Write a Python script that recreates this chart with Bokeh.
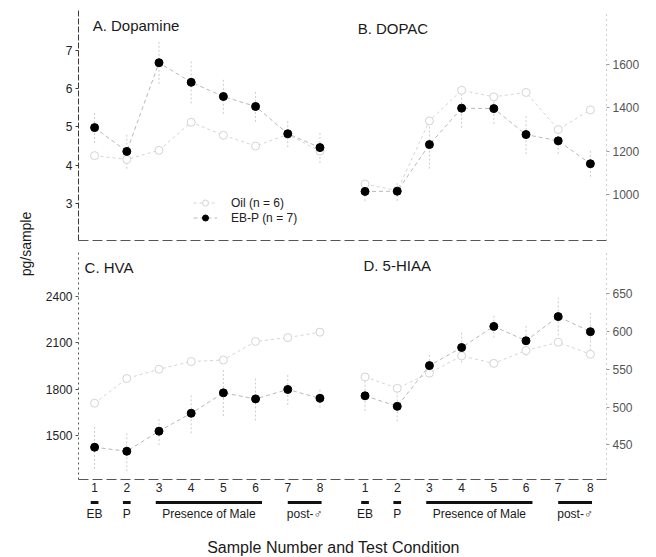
import numpy as np
from bokeh.plotting import figure
from bokeh.models import (Range1d, LinearAxis, FixedTicker, CustomJSTickFormatter,
                          Legend, LegendItem, Label)
from bokeh.layouts import column, row
from bokeh.embed import file_html
from bokeh.resources import INLINE
from bokeh.core.properties import value

FONT = "Liberation Sans"

# ---------------- data ----------------
samples = [1, 2, 3, 4, 5, 6, 7, 8]
RIGHT_OFFSET = 8.4          # right-hand panels share the row, shifted along x

# A. Dopamine
da_ebp = [4.98, 4.36, 6.67, 6.16, 5.79, 5.53, 4.82, 4.46]
da_ebp_se = [0.40, 0.45, 0.55, 0.55, 0.45, 0.40, 0.35, 0.40]
da_oil = [4.25, 4.15, 4.39, 5.12, 4.78, 4.50, 4.80, 4.37]

# B. DOPAC
dopac_ebp = [1016, 1017, 1231, 1398, 1396, 1277, 1248, 1143]
dopac_ebp_se = [45, 45, 110, 90, 70, 90, 60, 60]
dopac_oil = [1050, 1020, 1340, 1480, 1450, 1470, 1300, 1390]

# C. HVA
hva_ebp = [1425, 1399, 1529, 1645, 1777, 1738, 1799, 1742]
hva_ebp_se = [140, 130, 90, 130, 150, 140, 100, 60]
hva_oil = [1710, 1870, 1930, 1980, 1990, 2110, 2135, 2170]

# D. 5-HIAA
hiaa_ebp = [515, 501, 555, 579, 607, 588, 620, 600]
hiaa_ebp_se = [20, 20, 15, 20, 15, 20, 25, 25]
hiaa_oil = [540, 525, 545, 568, 558, 575, 586, 570]

# tick labels
a_ticks = [3, 4, 5, 6, 7]
b_ticks = [1000, 1200, 1400, 1600]
c_ticks = [1500, 1800, 2100, 2400]
d_ticks = [450, 500, 550, 600, 650]

# test conditions under the x axis
cond_names = ["EB", "P", "Presence of Male", "post-\u2642"]
cond_start = [0.88, 1.88, 2.90, 7.00]
cond_end = [1.12, 2.12, 6.20, 8.05]

right_x = [s + RIGHT_OFFSET for s in samples]

x_range = Range1d(0.5, 16.9)


def style_axis(ax, color, dash, label_color):
    ax.axis_line_color = color
    ax.axis_line_dash = dash
    ax.major_tick_line_color = color
    ax.major_tick_out = 3
    ax.major_tick_in = 0
    ax.minor_tick_line_color = None
    ax.major_label_text_font = FONT
    ax.major_label_text_font_size = "12px"
    ax.major_label_text_color = label_color
    ax.major_label_standoff = 3


def draw(fig, xs, ebp, se, oil, yname=None):
    kw = {} if yname is None else {"y_range_name": yname}
    lo = [v - e for v, e in zip(ebp, se)]
    hi = [v + e for v, e in zip(ebp, se)]
    fig.segment(xs, lo, xs, hi, line_color="#cccccc", line_dash="2 2", line_width=1, **kw)
    oil_line = fig.line(xs, oil, line_color="#d4d4d4", line_dash="3 3", line_width=1, **kw)
    oil_sc = fig.scatter(xs, oil, marker="circle", size=8, fill_color="white",
                         line_color="#d4d4d4", line_width=1, **kw)
    ebp_line = fig.line(xs, ebp, line_color="#b8b8b8", line_dash="4 3", line_width=1, **kw)
    ebp_sc = fig.scatter(xs, ebp, marker="circle", size=8, fill_color="black",
                         line_color="black", line_width=1, **kw)
    return oil_line, oil_sc, ebp_line, ebp_sc


def base_fig(height, yr, extra, mb_top, mb_bottom):
    f = figure(width=608, height=height, x_range=x_range, y_range=yr,
               min_border_left=40, min_border_right=40,
               min_border_top=mb_top, min_border_bottom=mb_bottom,
               toolbar_location=None, output_backend="svg")
    f.extra_y_ranges = extra
    f.xgrid.grid_line_color = None
    f.ygrid.grid_line_color = None
    f.outline_line_color = None
    f.background_fill_color = "white"
    return f


# ---------------- top row: A & B ----------------
top = base_fig(250, Range1d(2.04, 8.03), {"B": Range1d(791, 1846)}, 10, 10)
top.xaxis.ticker = FixedTicker(ticks=[])
style_axis(top.xaxis[0], "#555555", "10 4", "#222222")
top.xaxis.major_tick_out = 0
top.yaxis.ticker = FixedTicker(ticks=a_ticks)
style_axis(top.yaxis[0], "#3a3a3a", "6 2", "#222222")
axB = LinearAxis(y_range_name="B", ticker=FixedTicker(ticks=b_ticks))
style_axis(axB, "#9a9a9a", "1 4", "#555555")
top.add_layout(axB, "right")

oil_l, oil_s, ebp_l, ebp_s = draw(top, samples, da_ebp, da_ebp_se, da_oil)
draw(top, right_x, dopac_ebp, dopac_ebp_se, dopac_oil, "B")

legend = Legend(items=[LegendItem(label="Oil (n = 6)", renderers=[oil_l, oil_s]),
                       LegendItem(label="EB-P (n = 7)", renderers=[ebp_l, ebp_s])],
                location=(113, 13))
legend.background_fill_alpha = 0
legend.border_line_alpha = 0
legend.padding = 2
legend.margin = 0
legend.spacing = 0
legend.glyph_width = 24
legend.glyph_height = 15
legend.label_height = 15
legend.label_standoff = 14
legend.label_text_font = FONT
legend.label_text_font_size = "12px"
legend.label_text_color = "#222222"
top.add_layout(legend)

for txt, xx, yy in [("A. Dopamine", 0.94, 7.64), ("B. DOPAC", 9.17, 7.56)]:
    top.add_layout(Label(x=xx, y=yy, text=txt, text_baseline="middle",
                         text_font=FONT, text_font_size="15px", text_color="#1a1a1a"))

# ---------------- bottom row: C & D ----------------
bot = base_fig(247, Range1d(1216, 2686), {"D": Range1d(404, 705)}, 2, 18)
bot.xaxis.ticker = FixedTicker(ticks=samples + right_x)
bot.xaxis.formatter = CustomJSTickFormatter(
    code="return String(Math.round(tick > 8.7 ? tick - %s : tick));" % RIGHT_OFFSET)
style_axis(bot.xaxis[0], "#555555", "10 4", "#222222")
bot.xaxis.major_tick_out = 0
bot.yaxis.ticker = FixedTicker(ticks=c_ticks)
style_axis(bot.yaxis[0], "#555555", "2 3", "#222222")
axD = LinearAxis(y_range_name="D", ticker=FixedTicker(ticks=d_ticks))
style_axis(axD, "#9a9a9a", "1 4", "#555555")
bot.add_layout(axD, "right")

draw(bot, samples, hva_ebp, hva_ebp_se, hva_oil)
draw(bot, right_x, hiaa_ebp, hiaa_ebp_se, hiaa_oil, "D")

for txt, xx, yy in [("C. HVA", 0.69, 2589), ("D. 5-HIAA", 9.35, 2602)]:
    bot.add_layout(Label(x=xx, y=yy, text=txt, text_baseline="middle",
                         text_font=FONT, text_font_size="15px", text_color="#1a1a1a"))

# ---------------- y label strip ----------------
lab = figure(width=38, height=497, x_range=(0, 1), y_range=(0, 1),
             min_border=0, toolbar_location=None, output_backend="svg",
             x_axis_location=None, y_axis_location=None)
lab.grid.grid_line_color = None
lab.outline_line_color = None
lab.add_layout(Label(x=0.66, y=0.51, text="pg/sample", angle=np.pi / 2,
                     text_align="center", text_baseline="middle",
                     text_font=FONT, text_font_size="14px", text_color="#1a1a1a"))

# ---------------- condition strip ----------------
cond = figure(width=646, height=60, x_range=x_range, y_range=(0, 1),
              min_border_left=78, min_border_right=40, min_border_top=0, min_border_bottom=0,
              toolbar_location=None, output_backend="svg",
              x_axis_location=None, y_axis_location=None)
cond.grid.grid_line_color = None
cond.outline_line_color = None
for off in (0, RIGHT_OFFSET):
    x0 = [s + off for s in cond_start]
    x1 = [e + off for e in cond_end]
    mids = [(a + b) / 2 for a, b in zip(x0, x1)]
    cond.segment(x0, [0.917] * 4, x1, [0.917] * 4, line_color="#111111", line_width=3)
    cond.text(mids, [0.73] * 4, text=cond_names, text_align="center", text_baseline="middle",
              text_font=value(FONT), text_font_size=value("12px"), text_color="#1a1a1a")
cond.add_layout(Label(x=8.42, y=0.16, text="Sample Number and Test Condition",
                      text_align="center", text_baseline="middle",
                      text_font=FONT, text_font_size="16px", text_color="#1a1a1a"))

layout = column(row(lab, column(top, bot)), cond)
open("out.html", "w").write(file_html(layout, INLINE))
